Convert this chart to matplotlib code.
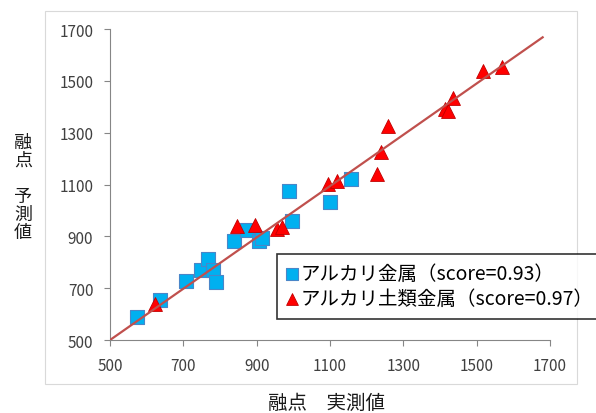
"""
融点の実測値と予測値の比較プロット
"""

import matplotlib
matplotlib.use('Agg')
import matplotlib.pyplot as plt
from matplotlib.patches import Rectangle

plt.rcParams['font.family'] = ['Noto Sans CJK JP', 'DejaVu Sans']

# アルカリ金属 (実測値, 予測値)
alkali_measured = [574, 636, 707, 748, 767, 781, 789, 838, 874, 906, 915, 988, 996, 1100, 1157]
alkali_predicted = [589, 654, 728, 770, 813, 770, 724, 882, 924, 882, 894, 1075, 959, 1032, 1121]

# アルカリ土類金属 (実測値, 予測値)
earth_measured = [623, 846, 895, 955, 969, 1095, 1119, 1228, 1239, 1258, 1414, 1422, 1436, 1517, 1569]
earth_predicted = [639, 940, 944, 928, 936, 1102, 1113, 1140, 1225, 1326, 1391, 1384, 1434, 1538, 1553]

# 近似直線の端点
fit_x = [500, 1680]
fit_y = [500, 1668]

ticks = [500, 700, 900, 1100, 1300, 1500, 1700]
alkali_label = 'アルカリ金属（score=0.93）'
earth_label = 'アルカリ土類金属（score=0.97）'

fig = plt.figure(figsize=(5.96, 4.14), dpi=100)
ax = fig.add_axes([0.1846, 0.1763, 0.7382, 0.7512])

# グラフエリアの枠
fig.patches.append(Rectangle((45 / 596, 1 - 385 / 414), 532 / 596, 373 / 414,
                             transform=fig.transFigure, fill=False,
                             edgecolor='#d9d9d9', linewidth=0.8))

ax.plot(fit_x, fit_y, color='#C0504D', linewidth=1.6, zorder=3)
sq = ax.scatter(alkali_measured, alkali_predicted, marker='s', s=90,
                color='#00B0F0', edgecolors='#4A86C8', linewidths=0.8, zorder=2)
tri = ax.scatter(earth_measured, earth_predicted, marker='^', s=100,
                 color='#FF0000', edgecolors='#C00000', linewidths=0.6, zorder=2)

ax.set_xlim(500, 1700)
ax.set_ylim(500, 1700)
ax.set_xticks(ticks)
ax.set_yticks(ticks)
ax.tick_params(direction='out', length=4, width=0.8, colors='#868686',
               labelcolor='#404040', labelsize=11)
ax.tick_params(axis='x', pad=8)
ax.tick_params(axis='y', pad=8)
for side in ['top', 'right']:
    ax.spines[side].set_visible(False)
for side in ['left', 'bottom']:
    ax.spines[side].set_color('#868686')
    ax.spines[side].set_linewidth(0.8)

fig.text(327 / 596, 1 - 403 / 414, '融点　実測値', ha='center', va='center',
         fontsize=14, color='#1a1a1a')
fig.text(23 / 596, 1 - 188 / 414, '融\n点\n\n予\n測\n値', ha='center',
         va='center', fontsize=13, linespacing=1.0, color='#1a1a1a')

leg = fig.legend([sq, tri], [alkali_label, earth_label],
                 loc='lower left', bbox_to_anchor=(277 / 596, 1 - 320 / 414),
                 bbox_transform=fig.transFigure, fontsize=14, frameon=True,
                 fancybox=False, handlelength=0.55, handletextpad=0.15,
                 borderpad=0.5, labelspacing=0.2, borderaxespad=0,
                 markerscale=0.85)
leg.get_frame().set_edgecolor('black')
leg.get_frame().set_linewidth(1.2)

fig.savefig('out.png', dpi=100)
